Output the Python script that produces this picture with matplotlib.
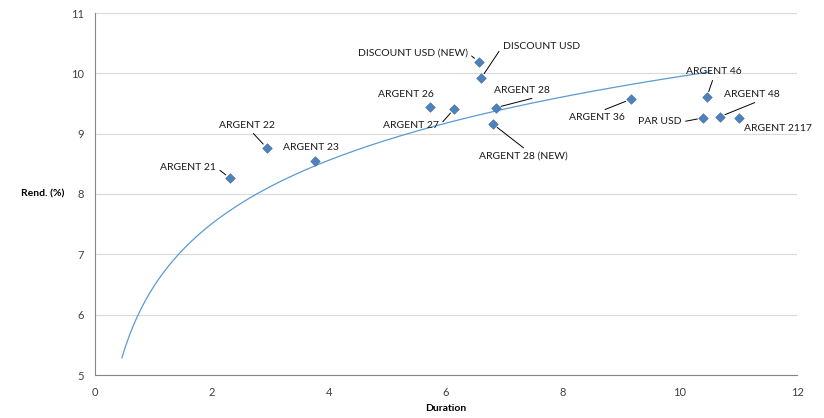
import numpy as np
import matplotlib
matplotlib.use("Agg")
import matplotlib.pyplot as plt

plt.rcParams['font.family'] = ['Lato', 'DejaVu Sans']

# bonds: duration vs yield (%)
bonds = ['ARGENT 21', 'ARGENT 22', 'ARGENT 23', 'ARGENT 26', 'ARGENT 27',
         'DISCOUNT USD (NEW)', 'DISCOUNT USD', 'ARGENT 28', 'ARGENT 28 (NEW)',
         'ARGENT 36', 'ARGENT 46', 'PAR USD', 'ARGENT 48', 'ARGENT 2117']
duration = [2.31, 2.94, 3.76, 5.73, 6.14, 6.56, 6.60, 6.85, 6.80,
            9.16, 10.46, 10.39, 10.68, 11.01]
yld = [8.26, 8.76, 8.55, 9.44, 9.41, 10.19, 9.92, 9.43, 9.16,
       9.57, 9.61, 9.26, 9.28, 9.26]

# logarithmic trend line: y = a*ln(x) + b
trend_a = 1.515
trend_b = 6.46
trend_range = (0.46, 10.51)

# label layout: offset in pixels from the marker, leader anchor on the text box
label_offsets = [(-42, 11), (-20, 23), (-4, 13), (-24, 13), (-43, -17),
                 (-66, 9), (60, 32), (26, 17), (31, -32), (-34, -18),
                 (7, 25), (-43, -4), (32, 22), (39, -11)]
leader_relpos = [(1, 0.5), (0.55, 0), None, None, (1, 0.5),
                 (1, 0.5), (0, 0.5), (0.9, 0), (0.55, 1), (0.5, 1),
                 (0.5, 0), (1, 0.5), (0.7, 0), None]

fig = plt.figure(figsize=(8.24, 4.18), dpi=100)
ax = fig.add_axes([95 / 824, 1 - 375 / 418, 702 / 824, 362 / 418])

xs = np.linspace(trend_range[0], trend_range[1], 300)
ax.plot(xs, trend_a * np.log(xs) + trend_b, color='#5b9bd5', lw=0.9, zorder=2)

ax.scatter(duration, yld, marker='D', s=24, color='#4f81bd',
           edgecolors='#3f6fa8', linewidths=0.4, zorder=3)

for name, x, y, off, rp in zip(bonds, duration, yld, label_offsets, leader_relpos):
    props = None
    if rp is not None:
        props = dict(arrowstyle='-', color='black', lw=0.7, relpos=rp,
                     shrinkA=1, shrinkB=4)
    ax.annotate(name, (x, y), xytext=off, textcoords='offset pixels',
                ha='center', va='center', fontsize=7.5, color='#1a1a1a',
                arrowprops=props, zorder=4)

ax.set_xlim(0, 12)
ax.set_ylim(5, 11)
ax.set_xticks(range(0, 13, 2))
ax.set_yticks(range(5, 12))
ax.grid(axis='y', color='#d9d9d9', lw=0.8)
ax.set_axisbelow(True)
for side in ['top', 'right']:
    ax.spines[side].set_visible(False)
for side in ['left', 'bottom']:
    ax.spines[side].set_color('#868686')
    ax.spines[side].set_linewidth(0.8)
ax.tick_params(length=0, labelsize=8, labelcolor='#404040')
ax.tick_params(axis='x', pad=9)
ax.tick_params(axis='y', pad=8)

ax.set_xlabel('Duration', fontsize=7.5, fontweight='bold', labelpad=4)
ax.set_ylabel('Rend. (%)', fontsize=7.5, fontweight='bold', rotation=0,
              ha='center', va='center')
ax.yaxis.set_label_coords(-0.075, 0.5)

fig.savefig('out.png', dpi=100)
